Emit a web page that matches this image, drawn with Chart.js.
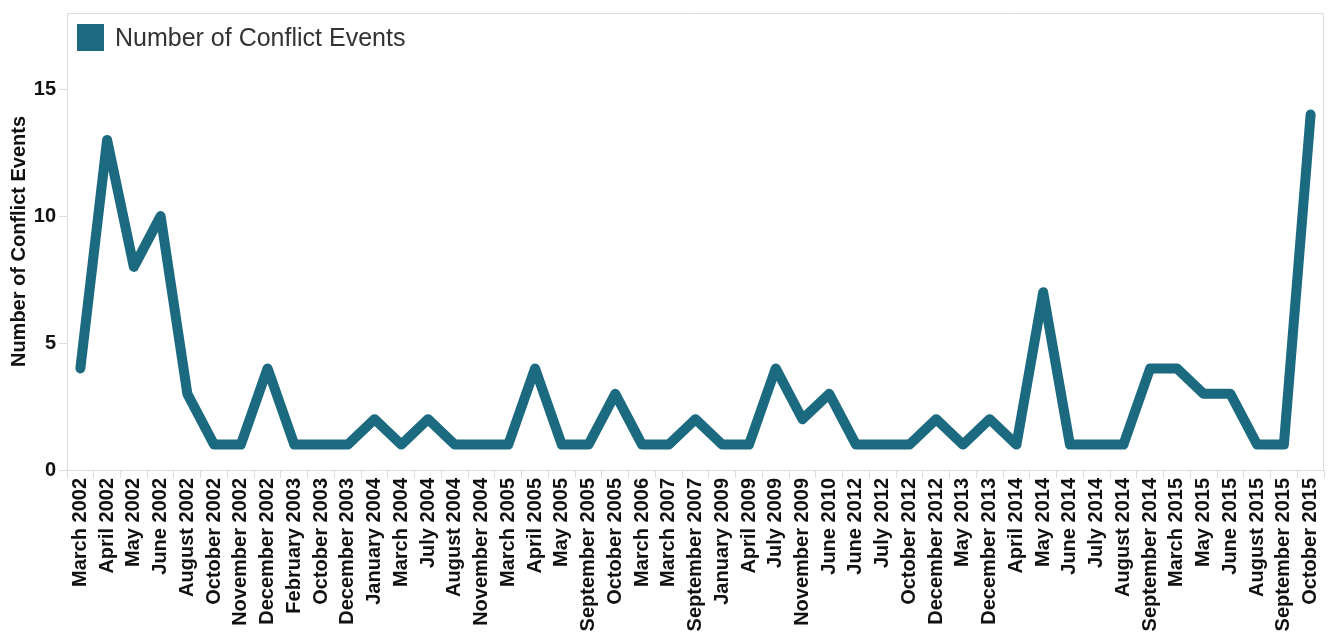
<!DOCTYPE html>
<html>
<head>
<meta charset="utf-8">
<script src="https://cdn.jsdelivr.net/npm/chart.js@4"></script>
<style>
  html, body { margin: 0; padding: 0; background: #ffffff; }
  #wrap { width: 1328px; height: 633px; position: relative; }
</style>
</head>
<body>
<div id="wrap"><canvas id="c" width="1328" height="633"></canvas></div>
<script>
const categories = [
  "March 2002","April 2002","May 2002","June 2002","August 2002","October 2002","November 2002",
  "December 2002","February 2003","October 2003","December 2003","January 2004","March 2004",
  "July 2004","August 2004","November 2004","March 2005","April 2005","May 2005","September 2005",
  "October 2005","March 2006","March 2007","September 2007","January 2009","April 2009","July 2009",
  "November 2009","June 2010","June 2012","July 2012","October 2012","December 2012","May 2013",
  "December 2013","April 2014","May 2014","June 2014","July 2014","August 2014","September 2014",
  "March 2015","May 2015","June 2015","August 2015","September 2015","October 2015"
];
const conflictEvents = [
  4,13,8,10,3,1,1,
  4,1,1,1,2,1,
  2,1,1,1,4,1,1,
  3,1,1,2,1,1,4,
  2,3,1,1,1,2,1,
  2,1,7,1,1,1,4,
  4,3,3,1,1,14
];
const yTicks = [0, 5, 10, 15];
const seriesName = "Number of Conflict Events";
const axisTitle = "Number of Conflict Events";
const lineColor = '#1b6a80';

const frame = {
  id: 'frame',
  beforeDatasetsDraw(chart) {
    const a = chart.chartArea, ctx = chart.ctx;
    ctx.save();
    ctx.strokeStyle = '#dcdcdc';
    ctx.lineWidth = 1;
    ctx.beginPath();
    ctx.moveTo(a.left, a.top + 0.5);
    ctx.lineTo(a.right - 0.5, a.top + 0.5);
    ctx.lineTo(a.right - 0.5, a.bottom);
    ctx.stroke();
    ctx.restore();
  }
};

const insideLegend = {
  id: 'insideLegend',
  afterDatasetsDraw(chart) {
    const a = chart.chartArea, ctx = chart.ctx;
    const ds = chart.data.datasets[0];
    ctx.save();
    ctx.fillStyle = ds.borderColor;
    ctx.fillRect(a.left + 10, a.top + 11, 27, 27);
    ctx.fillStyle = '#333333';
    ctx.font = '25px "Liberation Sans", Arial, sans-serif';
    ctx.textBaseline = 'middle';
    ctx.textAlign = 'left';
    ctx.fillText(ds.label, a.left + 48, a.top + 26);
    ctx.restore();
  }
};

new Chart(document.getElementById('c'), {
  type: 'line',
  data: {
    labels: categories,
    datasets: [{
      label: seriesName,
      data: conflictEvents,
      borderColor: lineColor,
      backgroundColor: lineColor,
      borderWidth: 10,
      borderCapStyle: 'round',
      borderJoinStyle: 'round',
      pointRadius: 0,
      tension: 0,
      fill: false
    }]
  },
  options: {
    responsive: false,
    animation: false,
    layout: { padding: { top: 13, right: 4, left: 0, bottom: 0 } },
    plugins: {
      legend: { display: false },
      tooltip: { enabled: false }
    },
    scales: {
      x: {
        type: 'category',
        offset: true,
        grid: { offset: true, drawOnChartArea: false, drawTicks: true, tickLength: 8, color: '#dddddd' },
        border: { color: '#dddddd' },
        ticks: {
          autoSkip: false,
          maxRotation: 90,
          minRotation: 90,
          padding: 0,
          color: '#111111',
          font: { family: 'Liberation Sans, Arial, sans-serif', size: 20, weight: 'bold' }
        },
        afterFit(scale) { scale.height = 163; scale.paddingLeft = 0; scale.paddingRight = 0; }
      },
      y: {
        min: 0,
        max: 18,
        grid: { drawOnChartArea: false, drawTicks: true, tickLength: 8, color: '#dddddd' },
        border: { color: '#dddddd' },
        afterBuildTicks(scale) { scale.ticks = yTicks.map(v => ({ value: v })); },
        ticks: {
          padding: 3,
          color: '#111111',
          font: { family: 'Liberation Sans, Arial, sans-serif', size: 20, weight: 'bold' }
        },
        title: {
          display: true,
          text: axisTitle,
          color: '#111111',
          padding: { top: 7, bottom: 0 },
          font: { family: 'Liberation Sans, Arial, sans-serif', size: 20, weight: 'bold' }
        },
        afterFit(scale) { scale.width = 67; scale.paddingTop = 0; scale.paddingBottom = 0; }
      }
    }
  },
  plugins: [frame, insideLegend]
});
</script>
</body>
</html>
